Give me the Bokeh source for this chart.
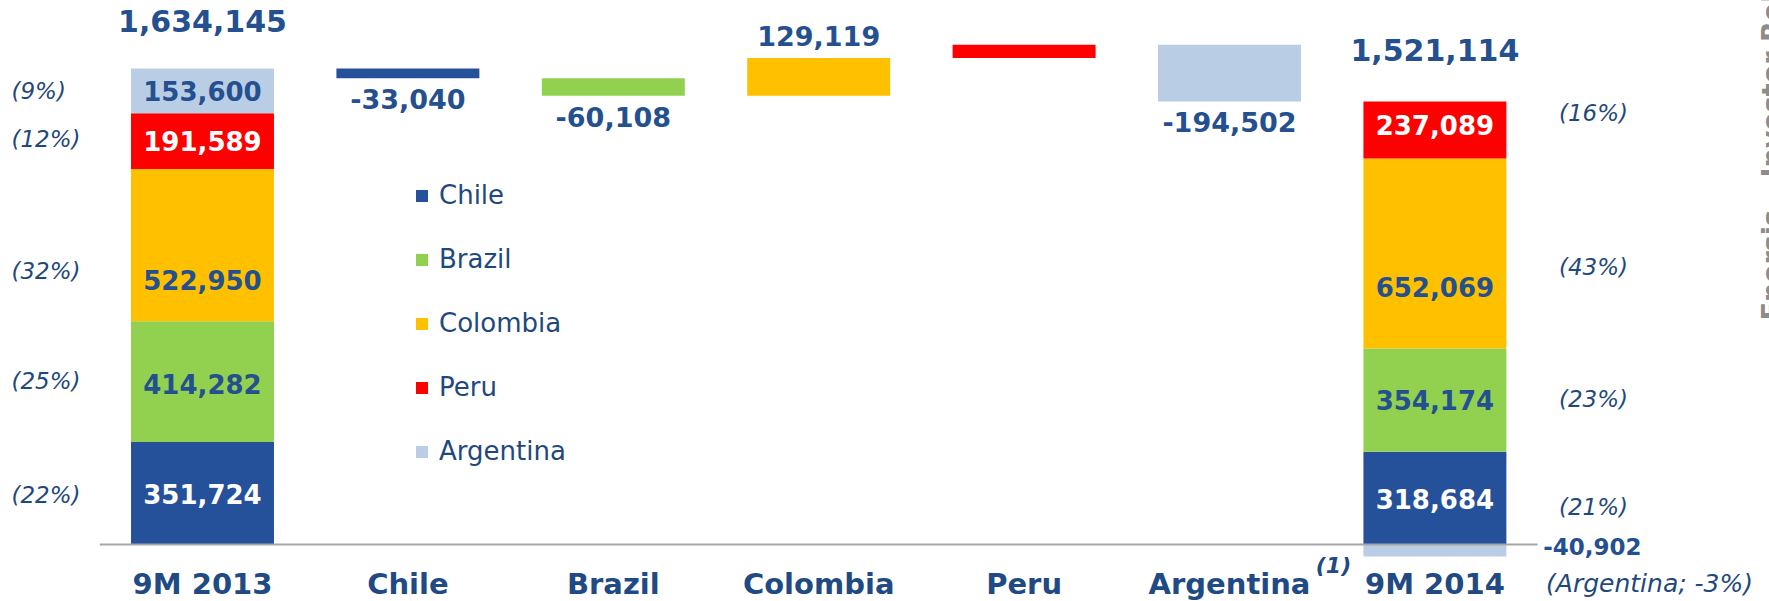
import math
from bokeh.plotting import figure
from bokeh.models import ColumnDataSource, Range1d, Legend, LegendItem
from bokeh.core.properties import value
from bokeh.embed import file_html
from bokeh.resources import INLINE

# ---------------- data ----------------
categories = ["9M 2013", "Chile", "Brazil", "Colombia", "Peru", "Argentina", "9M 2014"]
countries = ["Chile", "Brazil", "Colombia", "Peru", "Argentina"]
ebitda_2013 = [351724, 414282, 522950, 191589, 153600]
ebitda_2014 = [318684, 354174, 652069, 237089, -40902]
share_2013 = ["(22%)", "(25%)", "(32%)", "(12%)", "(9%)"]
share_2014 = ["(21%)", "(23%)", "(43%)", "(16%)", "(Argentina; -3%)"]
colors = ["#24519A", "#92D050", "#FFC000", "#FF0000", "#B9CDE5"]

BLUE = "#24508F"
PCT = "#1F497D"
FONT = value("DejaVu Sans")

total13 = sum(ebitda_2013)
total14 = sum(ebitda_2014)
deltas = [b - a for a, b in zip(ebitda_2013, ebitda_2014)]

i13, i14 = 0, len(categories) - 1
W = 0.696

# 2013 stack
seg13, cum = [], 0
for v in ebitda_2013:
    seg13.append((cum, cum + v)); cum += v
# waterfall steps
wf, level = [], total13
for d in deltas:
    wf.append((min(level, level + d), max(level, level + d))); level += d
# 2014 stack (top of column drawn at the net total, as in the reference)
seg14, pos = [], 0
for v in ebitda_2014:
    if v >= 0:
        seg14.append((pos, pos + v)); pos += v
    else:
        seg14.append((v, 0))
last_pos = max(i for i, v in enumerate(ebitda_2014) if v >= 0)
seg14[last_pos] = (seg14[last_pos][0], total14)

p = figure(width=1769, height=601, output_backend="svg", toolbar_location=None,
           x_range=Range1d(-0.9834, 7.6290), y_range=Range1d(-195690, 1867600),
           min_border=0, min_border_left=0, min_border_right=0,
           min_border_top=0, min_border_bottom=0)
p.axis.visible = False
p.grid.visible = False
p.outline_line_color = None
p.background_fill_color = "white"

renderers = []
for i, c in enumerate(countries):
    xs = [i13, i + 1, i14]
    src = ColumnDataSource(dict(
        left=[x - W / 2 for x in xs], right=[x + W / 2 for x in xs],
        bottom=[seg13[i][0], wf[i][0], seg14[i][0]],
        top=[seg13[i][1], wf[i][1], seg14[i][1]]))
    r = p.quad(left="left", right="right", bottom="bottom", top="top", source=src,
               fill_color=colors[i], line_color=None)
    renderers.append(r)

# baseline
p.segment(x0=[-0.5], y0=[0], x1=[len(categories) - 0.5], y1=[0], line_color="#A6A6A6", line_width=2)

# labels inside 2013 stack
txtcol = ["white" if c in ("Chile", "Peru") else BLUE for c in countries]
off13 = [1, 2, 35, 0, 0]
p.text(x=[i13] * 5, y=[(a + b) / 2 for a, b in seg13], text=[f"{v:,}" for v in ebitda_2013],
       y_offset=off13, text_color=txtcol, text_font=FONT, text_font_style="bold",
       text_font_size="26px", text_align="center", text_baseline="middle")
# labels inside 2014 stack
off14 = [1, 0, 33, -5]
p.text(x=[i14] * 4, y=[(a + b) / 2 for a, b in seg14[:4]], text=[f"{v:,}" for v in ebitda_2014[:4]],
       y_offset=off14, text_color=txtcol[:4], text_font=FONT, text_font_style="bold",
       text_font_size="26px", text_align="center", text_baseline="middle")
# Argentina negative 2014
p.text(x=[i14 + 0.767], y=[ebitda_2014[4] / 2], text=[f"{ebitda_2014[4]:,}"], y_offset=[-4],
       text_color=BLUE, text_font=FONT, text_font_style="bold", text_font_size="23px",
       text_align="center", text_baseline="middle")

# totals
p.text(x=[i13, i14], y=[total13, total14], text=[f"{total13:,}", f"{total14:,}"],
       y_offset=[-48, -51], text_color=BLUE, text_font=FONT, text_font_style="bold",
       text_font_size="30px", text_align="center", text_baseline="middle")

# waterfall delta labels (Peru has none in the reference)
dx, dy, dt, doff = [], [], [], []
for i, d in enumerate(deltas):
    if countries[i] == "Peru":
        continue
    dx.append(i + 1)
    if d >= 0:
        dy.append(wf[i][1]); doff.append(-22); dt.append(f"{d:,}")
    else:
        dy.append(wf[i][0]); doff.append(21); dt.append(f"{d:,}")
p.text(x=dx, y=dy, text=dt, y_offset=doff, text_color=BLUE, text_font=FONT,
       text_font_style="bold", text_font_size="27px", text_align="center", text_baseline="middle")

# percentage shares
poff13 = [2, -1, 26, -2, 0]
p.text(x=[i13 - 0.93] * 5, y=[(a + b) / 2 for a, b in seg13], text=share_2013, y_offset=poff13,
       text_color=PCT, text_font=FONT, text_font_style="italic", text_font_size="23px",
       text_align="left", text_baseline="middle")
poff14 = [9, -1, 13, -17]
p.text(x=[i14 + 0.772] * 4, y=[(a + b) / 2 for a, b in seg14[:4]], text=share_2014[:4], y_offset=poff14,
       text_color=PCT, text_font=FONT, text_font_style="italic", text_font_size="23px",
       text_align="center", text_baseline="middle")
p.text(x=[i14 + 1.045], y=[0], text=[share_2014[4]], y_offset=[39],
       text_color=PCT, text_font=FONT, text_font_style="italic", text_font_size="25px",
       text_align="center", text_baseline="middle")

# category labels
p.text(x=list(range(len(categories))), y=[0] * len(categories), text=categories, y_offset=40,
       text_color="#1F4A84", text_font=FONT, text_font_style="bold", text_font_size="29px",
       text_align="center", text_baseline="middle")
p.text(x=[categories.index("Argentina")], y=[0], text=["(1)"], x_offset=104, y_offset=21,
       text_color="#1F4A84", text_font=FONT, text_font_style="bold italic", text_font_size="22px",
       text_align="center", text_baseline="middle")

# side caption (cut by the page edge)
p.text(x=[7.641], y=[769000], text=["Enersis – Investor Relations"], angle=math.pi / 2,
       text_color="#8C8C8C", text_font=FONT, text_font_style="bold", text_font_size="27px",
       text_align="left", text_baseline="alphabetic")

legend = Legend(items=[LegendItem(label=c, renderers=[r]) for c, r in zip(countries, renderers)],
                location=(414, 135), glyph_width=15, glyph_height=15, label_height=28,
                label_standoff=10, spacing=34, padding=0, margin=0,
                label_text_font="DejaVu Sans", label_text_font_size="26px", label_text_color="#1F497D",
                border_line_color=None, background_fill_alpha=0)
p.add_layout(legend)

open("out.html", "w").write(file_html(p, INLINE))
